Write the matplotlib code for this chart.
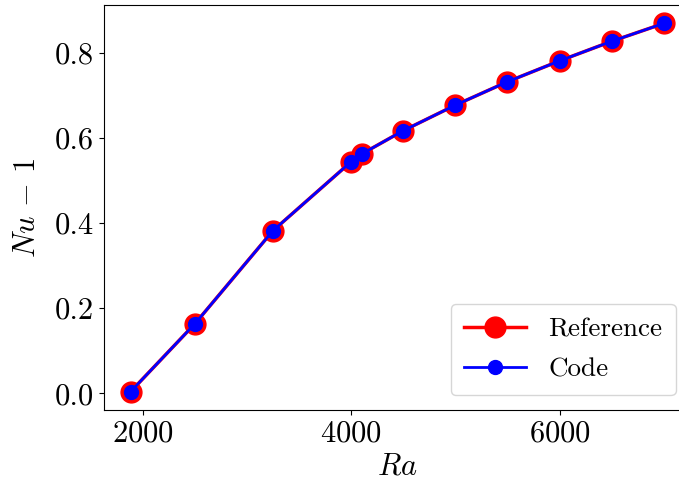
import matplotlib
matplotlib.use("Agg")
import matplotlib.pyplot as plt

plt.rcParams['mathtext.fontset'] = 'cm'
plt.rcParams['font.family'] = 'serif'
plt.rcParams['font.serif'] = ['cmr10', 'DejaVu Serif']
plt.rcParams['axes.formatter.use_mathtext'] = True

ra = [1885, 2500, 3250, 4000, 4100, 4500, 5000, 5500, 6000, 6500, 7000]
nu_ref = [0.004, 0.163, 0.382, 0.544, 0.562, 0.617, 0.677, 0.732, 0.781, 0.827, 0.869]
nu_code = [0.004, 0.163, 0.382, 0.544, 0.562, 0.617, 0.677, 0.732, 0.781, 0.827, 0.869]

fig = plt.figure(figsize=(6.79, 4.86), dpi=100)
ax = fig.add_axes([104/679, 1-410/486, (690.5-104)/679, (410-5)/486])

ax.plot(ra, nu_ref, '-o', color='red', lw=2.5, markersize=15, label='Reference')
ax.plot(ra, nu_code, '-o', color='blue', lw=2, markersize=10, label='Code')

ax.set_xticks([2000, 4000, 6000])
ax.set_yticks([0.0, 0.2, 0.4, 0.6, 0.8])
ax.set_yticklabels(['0.0', '0.2', '0.4', '0.6', '0.8'])
ax.tick_params(labelsize=22)
ax.set_xlabel(r'$Ra$', fontsize=22)
ax.set_ylabel(r'$Nu\,-\,1$', fontsize=22, labelpad=10)
ax.legend(loc='lower right', fontsize=19.5, handlelength=2.3, labelspacing=0.6,
          borderpad=0.5, borderaxespad=0.55)

fig.savefig('out.png', dpi=100)
